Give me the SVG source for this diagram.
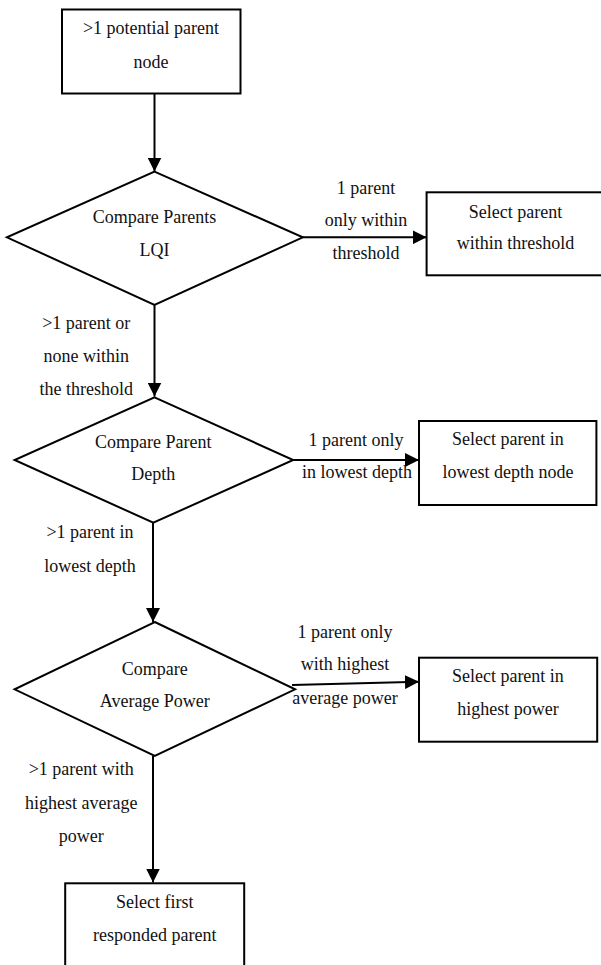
<svg xmlns="http://www.w3.org/2000/svg" width="601" height="965" viewBox="0 0 601 965">
<defs>
<style>
.box{fill:none;stroke:#000;stroke-width:2}
.dia{fill:none;stroke:#000;stroke-width:2;stroke-linejoin:miter}
.t{font-family:"Liberation Serif","Times New Roman",serif;font-size:18px;fill:#111;text-anchor:middle}
.edge{fill:none;stroke:#000;stroke-width:2}
</style>
<marker id="arr" markerUnits="userSpaceOnUse" markerWidth="14" markerHeight="14" viewBox="0 0 13 13" refX="13" refY="6.5" orient="auto">
<path d="M0,0 L13,6.5 L0,13 Z" fill="#000"/>
</marker>
</defs>
<rect width="601" height="965" fill="#fff"/>
<g id="connectors">
<line class="edge" x1="154.5" y1="93.5" x2="154.5" y2="171.5" marker-end="url(#arr)"/>
<line class="edge" x1="302.8" y1="237.3" x2="426.6" y2="237.3" marker-end="url(#arr)"/>
<line class="edge" x1="154.5" y1="305" x2="154.5" y2="396.5" marker-end="url(#arr)"/>
<line class="edge" x1="293.2" y1="460" x2="419" y2="460" marker-end="url(#arr)"/>
<line class="edge" x1="153" y1="522.7" x2="153" y2="622" marker-end="url(#arr)"/>
<line class="edge" x1="292" y1="685" x2="419" y2="681.7" marker-end="url(#arr)"/>
<line class="edge" x1="153" y1="756" x2="153" y2="882.5" marker-end="url(#arr)"/>
<text class="t" x="366" y="193.7">1 parent</text>
<text class="t" x="366" y="226">only within</text>
<text class="t" x="366" y="259.3">threshold</text>
<text class="t" x="86.2" y="329.3">&gt;1 parent or</text>
<text class="t" x="86.2" y="362">none within</text>
<text class="t" x="86.2" y="395.3">the threshold</text>
<text class="t" x="356" y="446">1 parent only</text>
<text class="t" x="357" y="477.7">in lowest depth</text>
<text class="t" x="90" y="538.3">&gt;1 parent in</text>
<text class="t" x="90" y="571.7">lowest depth</text>
<text class="t" x="345" y="637.7">1 parent only</text>
<text class="t" x="345" y="670.3">with highest</text>
<text class="t" x="345" y="703.7">average power</text>
<text class="t" x="81.3" y="775.3">&gt;1 parent with</text>
<text class="t" x="81.3" y="808.7">highest average</text>
<text class="t" x="81.3" y="842">power</text>
</g>
<g id="start">
<rect class="box" x="62" y="9.5" width="178.5" height="84"/>
<text class="t" x="151" y="34.3">&gt;1 potential parent</text>
<text class="t" x="151" y="67.7">node</text>
</g>
<g id="lqi">
<polygon class="dia" points="154.5,171.7 302.8,237.3 154.5,305 6.9,237.3"/>
<text class="t" x="154.5" y="222.7">Compare Parents</text>
<text class="t" x="154.5" y="256">LQI</text>
</g>
<g id="sel-threshold">
<rect class="box" x="426.6" y="192.3" width="180" height="83"/>
<text class="t" x="515.5" y="217.7">Select parent</text>
<text class="t" x="515.5" y="249.3">within threshold</text>
</g>
<g id="depth">
<polygon class="dia" points="154.5,397.3 293.2,460 153.3,522.7 14.6,460"/>
<text class="t" x="153.3" y="447.7">Compare Parent</text>
<text class="t" x="153.3" y="480">Depth</text>
</g>
<g id="sel-depth">
<rect class="box" x="419" y="421" width="177.4" height="84"/>
<text class="t" x="507.9" y="445.3">Select parent in</text>
<text class="t" x="507.9" y="477.7">lowest depth node</text>
</g>
<g id="power">
<polygon class="dia" points="154.8,622 295.1,689.3 154.8,756 14.6,689.3"/>
<text class="t" x="154.8" y="675.3">Compare</text>
<text class="t" x="154.8" y="707">Average Power</text>
</g>
<g id="sel-power">
<rect class="box" x="419" y="657.7" width="178.2" height="84"/>
<text class="t" x="507.9" y="682">Select parent in</text>
<text class="t" x="507.9" y="715.3">highest power</text>
</g>
<g id="sel-first">
<rect class="box" x="65.2" y="883.3" width="179" height="100"/>
<text class="t" x="154.8" y="907.7">Select first</text>
<text class="t" x="154.8" y="941">responded parent</text>
</g>
</svg>
